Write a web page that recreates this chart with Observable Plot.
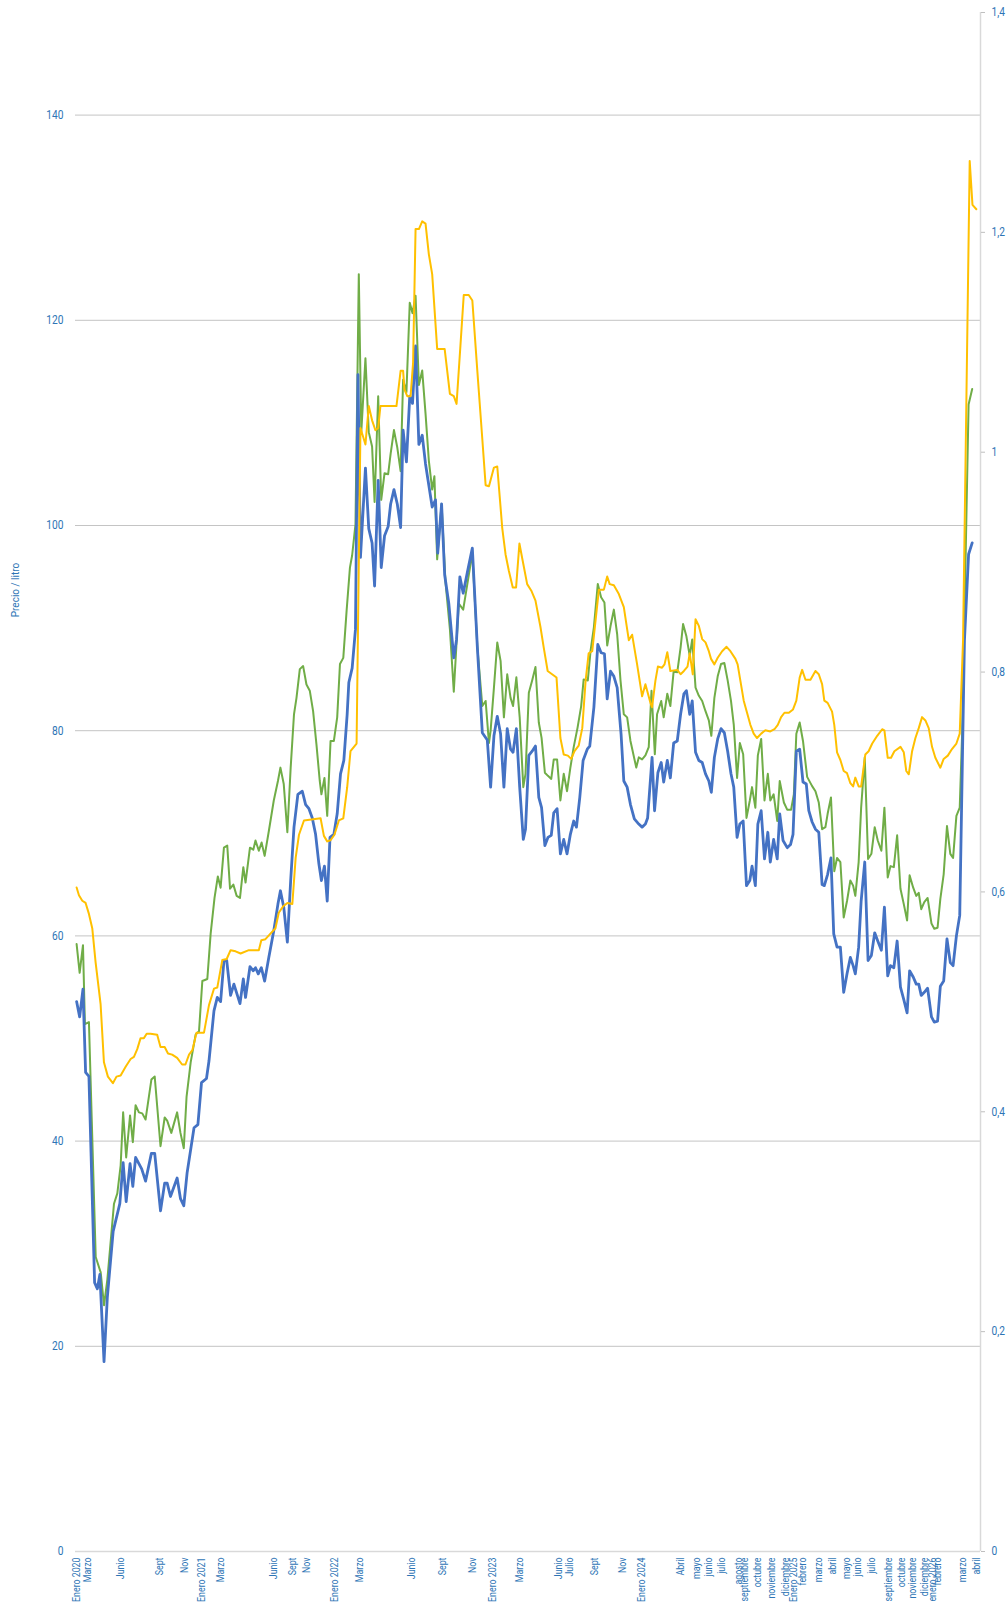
<!DOCTYPE html>
<html>
<head>
<meta charset="utf-8">
<script src="https://cdn.jsdelivr.net/npm/d3@7"></script>
<script src="https://cdn.jsdelivr.net/npm/@observablehq/plot@0.6"></script>
<style>
  body { margin: 0; background: #fff; }
  #chart svg { display: block; }
</style>
</head>
<body>
<div id="chart"></div>
<script>
// ---- Eje X: posiciones de semana (índice de categoría) y rótulos ----
const semanasRotulo = [0,4,16,30,39,45,52,71,78,83,93,102,121,132,143,150,160,174,178,187,197,204,218,224,228,233,239,241,246,251,256,259,262,268,273,278,282,287,293,298,302,306,309,311,320,325];
const rotulos = ["Enero 2020","Marzo","Junio","Sept","Nov","Enero 2021","Marzo","Junio","Sept","Nov","Enero 2022","Marzo","Junio","Sept","Nov","Enero 2023","Marzo","Junio","Julio","Sept","Nov","Enero 2024","Abril","mayo","junio","julio","agosto","septiembre","octubre","noviembre","diciembre","Enero 2025","febrero","marzo","abril","mayo","junio","julio","septiembre","octubre","noviembre","diciembre","enero 2026","febrero","marzo","abril"];

// ---- Ejes Y ----
const ticksIzq = [0,20,40,60,80,100,120,140];
const ticksDer = [0,0.2,0.4,0.6,0.8,1,1.2,1.4];
const rotulosDer = ["0","0,2","0,4","0,6","0,8","1","1,2","1,4"];

// ---- Serie azul (eje izquierdo): [semana, precio] ----
const serieAzul = [[0,53.6],[1.1,52.1],[2.3,54.8],[3.25,46.7],[4.45,46.3],[6.5,26.2],[7.5,25.6],[8.4,27.0],[9.9,18.5],[11.1,24.8],[13.2,31.2],[15.6,33.9],[16.8,37.9],[17.9,34.1],[19.3,37.8],[20.3,35.6],[21.3,38.4],[23.5,37.3],[24.9,36.1],[27,38.8],[28.2,38.8],[30.3,33.2],[31.8,35.9],[32.7,35.9],[33.9,34.6],[36.3,36.4],[37.5,34.4],[38.7,33.7],[39.9,36.9],[42.4,41.3],[43.8,41.6],[45.1,45.7],[46.9,46.1],[47.8,47.8],[49.6,52.7],[50.8,54.0],[52,53.6],[53.2,57.6],[54.2,57.6],[55.6,54.2],[56.8,55.3],[59,53.4],[60.2,55.8],[61,54.0],[62.6,57.0],[63.8,56.6],[64.6,56.9],[65.6,56.3],[66.7,56.9],[67.9,55.6],[69.4,57.9],[71.2,60.5],[72.7,63.1],[73.6,64.4],[74.8,62.8],[76.1,59.4],[77.3,65.4],[78.5,70.6],[79.9,73.8],[81.5,74.1],[82.7,72.8],[83.9,72.4],[85.1,71.5],[86.3,69.9],[87.5,67.0],[88.4,65.4],[89.5,66.8],[90.5,63.4],[91.5,69.6],[92.9,69.9],[94.1,71.9],[95.3,75.8],[96.5,77.1],[97.7,81.6],[98.3,84.7],[99.5,86.1],[100.7,89.9],[101.6,114.7],[102.5,96.9],[104.3,105.6],[105.5,99.7],[106.7,98.3],[107.6,94.1],[108.9,104.4],[110,95.9],[111.2,99.0],[112.5,99.9],[113.4,102.1],[114.6,103.5],[115.8,102.1],[117,99.8],[117.9,109.3],[119.1,106.2],[120.3,112.6],[121.3,111.9],[122.4,117.5],[123.6,107.9],[124.8,108.8],[126,106.0],[127.2,103.9],[128.4,101.8],[129.6,102.5],[130.4,97.3],[131.8,102.1],[132.9,95.2],[134.4,92.4],[136.2,87.1],[137.2,88.9],[138.4,95.0],[139.6,93.4],[141.3,95.7],[142.9,97.8],[144.7,88.2],[146.5,79.8],[148.3,79.1],[149.5,74.5],[150.7,79.5],[151.9,81.4],[153.1,79.7],[154.3,74.5],[155.5,80.2],[156.7,78.2],[157.6,77.9],[158.8,80.2],[160,74.5],[161.3,69.4],[162.1,70.4],[163.3,77.6],[164.5,78.0],[165.7,78.5],[166.9,73.5],[167.9,72.5],[169.1,68.8],[170.2,69.6],[171.4,69.8],[172.3,72.0],[173.5,72.4],[174.7,68.0],[175.9,69.4],[177.1,68.0],[178.3,69.9],[179.5,71.2],[180.5,70.6],[181.7,73.5],[182.9,77.1],[184.4,78.2],[185.3,78.5],[186.8,82.3],[188.2,88.4],[189.4,87.6],[190.6,87.5],[191.6,83.1],[192.8,85.8],[194,85.3],[195.2,84.2],[196.6,79.7],[197.6,75.1],[198.8,74.5],[200,72.8],[201.4,71.4],[203,70.9],[204.2,70.6],[205.4,70.9],[206.2,71.5],[207.8,77.4],[208.7,72.2],[209.9,75.9],[211.1,76.9],[212,75.0],[213.3,77.1],[214.4,75.4],[215.6,78.8],[216.9,79.0],[218.1,81.6],[219.3,83.6],[220.2,83.9],[221.4,81.6],[222.3,82.9],[223.5,77.9],[224.7,77.1],[225.9,76.9],[227.1,75.8],[228.3,75.1],[229.2,74.0],[230.3,77.4],[231.5,79.2],[232.7,80.2],[233.9,79.8],[235.1,78.0],[236.3,75.8],[237.3,74.5],[238.5,69.6],[239.5,70.9],[240.7,71.2],[241.9,64.9],[243.1,65.4],[243.9,66.8],[245.1,64.9],[246,70.9],[247.2,72.2],[248.4,67.5],[249.6,70.1],[250.5,67.2],[251.7,69.4],[253,67.5],[253.9,71.9],[255.1,69.3],[256.6,68.6],[257.8,68.9],[258.7,69.9],[259.9,78.0],[261.1,78.2],[262.3,75.0],[263.5,74.8],[264.4,72.2],[265.6,71.1],[266.8,70.4],[268,70.1],[269.2,65.0],[270,64.9],[271.2,66.0],[272.4,67.6],[273.4,60.2],[274.6,58.9],[275.8,58.9],[277,54.5],[278.2,56.3],[279.4,57.9],[280.4,57.1],[281.2,56.3],[282.4,58.9],[283.3,63.4],[284.6,67.2],[285.8,57.6],[287,58.1],[288.2,60.3],[289.3,59.5],[290.6,58.6],[291.7,62.8],[292.9,56.1],[293.9,57.1],[295.1,56.9],[296.3,59.5],[297.5,55.0],[298.7,53.8],[299.9,52.5],[300.8,56.6],[302.1,56.0],[303.2,55.3],[304.1,55.3],[305,54.2],[306.1,54.5],[307.3,54.9],[308.7,52.1],[309.7,51.6],[310.9,51.7],[311.9,55.1],[313.1,55.6],[314.3,59.7],[315.5,57.4],[316.5,57.1],[317.7,60.0],[318.9,62.0],[320.6,88.8],[322.1,97.2],[323.4,98.3]];

// ---- Serie verde (eje izquierdo): [semana, precio] ----
const serieVerde = [[0,59.2],[1.1,56.4],[2.3,59.1],[3.0,51.4],[4.45,51.6],[6.9,28.7],[8.7,27.2],[9.9,24.0],[11.1,26.5],[13.5,33.9],[14.7,34.9],[15.9,37.6],[16.8,42.8],[17.9,38.4],[19.3,42.5],[20.3,39.9],[21.3,43.5],[22.5,42.8],[23.7,42.7],[24.9,42.1],[27.0,46.0],[28.2,46.3],[30.3,39.5],[31.8,42.3],[32.7,42.0],[34.2,40.8],[36.3,42.8],[37.5,40.8],[38.7,39.3],[39.7,44.3],[41.2,47.7],[43.0,50.4],[44.2,50.7],[45.4,55.6],[47.2,55.8],[48.4,60.2],[49.8,63.7],[51,65.8],[52,64.7],[53.2,68.6],[54.4,68.8],[55.4,64.6],[56.6,65.0],[57.8,63.9],[59,63.7],[60.2,66.7],[61,65.2],[62.6,68.6],[63.8,68.4],[64.6,69.3],[65.8,68.3],[66.8,69.1],[67.9,67.8],[69.4,70.2],[71.2,73.2],[72.7,75.1],[73.6,76.4],[74.8,74.8],[76.1,70.1],[77.3,76.4],[78.5,81.6],[79.4,83.2],[80.6,86.0],[81.8,86.3],[83,84.5],[84.2,83.9],[85.4,81.9],[86.6,78.7],[87.8,75.1],[88.4,73.8],[89.5,75.4],[90.5,71.7],[91.7,79.0],[92.9,79.0],[94.1,81.3],[95.1,86.5],[96.3,87.1],[97.5,91.7],[98.7,95.9],[99.5,97.1],[100.7,100.1],[101.9,124.5],[102.8,109.1],[104.3,116.3],[105.5,109.1],[106.7,107.7],[107.6,102.3],[108.9,112.6],[110,102.5],[111.2,105.1],[112.5,105.0],[113.4,107.0],[114.6,109.3],[115.8,107.6],[117,105.3],[117.9,114.2],[119.1,113.0],[120.3,121.7],[121.3,120.7],[122.4,122.4],[123.6,113.7],[124.8,115.1],[126,110.9],[127.2,106.3],[128.4,103.5],[129.2,104.8],[130.2,96.7],[131.8,102.1],[133.2,94.5],[134.8,89.9],[136.2,83.8],[138,92.4],[139.6,91.8],[142.9,97.3],[144.7,88.2],[146.5,82.4],[147.7,82.9],[148.9,78.8],[149.5,80.0],[150.7,84.2],[151.9,88.6],[153.1,86.8],[154.3,81.3],[155.5,85.5],[156.7,83.2],[157.6,82.4],[158.8,85.2],[160,81.3],[161.3,74.5],[162.1,75.8],[163.3,83.7],[164.5,84.9],[165.7,86.2],[166.9,80.8],[167.9,79.3],[169.1,75.9],[170.2,75.6],[171.4,75.3],[172.3,77.2],[173.5,77.2],[174.7,73.2],[175.9,75.8],[177.1,74.1],[178.3,76.4],[179.5,78.4],[180.9,80.3],[182.2,82.4],[183.1,85.0],[184.6,84.9],[185.6,87.8],[186.8,90.1],[188.2,94.3],[189.4,93.0],[190.6,92.5],[191.6,88.3],[192.8,90.2],[194,91.8],[195.2,89.4],[196.4,84.9],[197.6,81.6],[198.8,81.3],[200,79.0],[202.1,76.4],[203,77.4],[204.2,77.2],[205.4,77.6],[206.6,78.4],[207.6,83.9],[208.8,77.7],[209.6,81.6],[211.1,82.9],[212,81.3],[213.3,83.6],[214.4,82.4],[215.6,85.8],[216.9,85.7],[218.1,88.1],[219,90.4],[220.2,89.2],[221.4,87.3],[222.3,88.9],[223.5,84.2],[224.7,83.4],[225.9,82.9],[227.1,81.9],[228.3,81.0],[229.2,79.5],[230.3,83.2],[231.5,85.3],[232.7,86.5],[233.9,86.6],[235.1,84.9],[236.3,82.9],[237.3,80.6],[238.5,75.4],[239.5,78.8],[240.7,77.7],[241.9,71.5],[243.1,73.2],[243.9,74.5],[245.1,72.5],[246,77.6],[247.2,79.2],[248.4,73.2],[249.6,75.8],[250.5,73.2],[251.7,73.8],[253,71.2],[253.9,75.1],[255.4,73.0],[256.6,72.3],[258,72.3],[259,73.8],[259.9,79.7],[261.1,80.8],[262.3,79.0],[263.8,75.5],[265.6,74.6],[266.8,74.1],[268,73.0],[269.2,70.4],[270.4,70.6],[271.2,71.9],[272.4,73.5],[273.6,66.3],[274.6,67.6],[275.8,67.2],[277,61.8],[278.2,63.4],[279.4,65.4],[280.4,64.9],[281.2,63.9],[282.4,67.2],[283.3,72.5],[284.6,77.4],[285.8,67.5],[287,68.0],[288.2,70.6],[289.3,69.3],[290.6,68.3],[291.7,72.5],[292.9,65.7],[293.9,66.8],[295.1,66.7],[296.3,69.8],[297.5,64.6],[298.7,63.1],[299.9,61.5],[300.8,65.9],[302.1,64.7],[303.2,63.9],[304.1,64.2],[305,62.6],[306.1,63.3],[307.3,63.7],[308.7,61.2],[309.7,60.7],[310.9,60.8],[311.9,63.6],[313.1,66.0],[314.3,70.7],[315.5,68.0],[316.5,67.6],[317.7,71.7],[318.9,72.5],[319.8,80.0],[322.1,111.8],[323.4,113.3]];

// ---- Serie amarilla (eje derecho, €/litro): [semana, precio] ----
const serieAmarilla = [[0,0.604],[0.84,0.597],[2.05,0.592],[3.25,0.590],[4.45,0.580],[5.65,0.567],[6.86,0.536],[8.66,0.498],[9.87,0.445],[11.3,0.432],[13.1,0.426],[14.4,0.432],[15.9,0.433],[17.7,0.441],[19.5,0.448],[20.7,0.450],[21.9,0.457],[23.1,0.467],[24.3,0.467],[25.3,0.471],[26.7,0.471],[29.1,0.470],[30.3,0.459],[31.8,0.459],[33.0,0.453],[34.5,0.452],[36.3,0.449],[38.1,0.443],[39.3,0.443],[40.6,0.452],[41.8,0.456],[43.3,0.472],[46.0,0.472],[47.8,0.497],[49.6,0.512],[50.8,0.513],[52.6,0.538],[54.2,0.539],[55.6,0.547],[57.4,0.546],[59.2,0.544],[62.2,0.547],[65.8,0.547],[66.7,0.556],[68.2,0.557],[70,0.562],[71.8,0.567],[73,0.581],[74.6,0.587],[76.1,0.590],[77.9,0.589],[79.1,0.631],[80.3,0.652],[82.1,0.665],[88.1,0.667],[89.3,0.651],[90.5,0.646],[91.7,0.647],[93.1,0.652],[94.7,0.665],[96.3,0.667],[97.7,0.695],[98.9,0.728],[101.1,0.735],[102.5,1.022],[104.3,1.007],[105.5,1.042],[106.7,1.029],[107.9,1.020],[108.9,1.022],[109.7,1.042],[115.5,1.042],[117,1.074],[117.9,1.074],[118.4,1.057],[119.4,1.051],[120.6,1.051],[121.5,1.081],[122.4,1.203],[123.6,1.203],[124.8,1.210],[126,1.208],[127.2,1.180],[128.4,1.162],[130.2,1.094],[132.9,1.094],[134.8,1.053],[136.2,1.051],[137.2,1.044],[138.6,1.097],[139.8,1.143],[141.6,1.143],[142.9,1.138],[144.7,1.074],[146.5,1.012],[147.7,0.970],[148.9,0.969],[150.7,0.986],[151.9,0.987],[153.7,0.931],[154.9,0.907],[156.1,0.892],[157.5,0.877],[158.7,0.877],[159.9,0.917],[161.1,0.901],[162.7,0.880],[164.2,0.874],[165.7,0.865],[167.5,0.841],[168.7,0.822],[170.1,0.801],[171.7,0.798],[173.3,0.795],[174.7,0.740],[175.9,0.725],[177.4,0.724],[178.6,0.721],[179.8,0.728],[181.3,0.733],[182.6,0.749],[183.8,0.792],[184.9,0.817],[186.2,0.819],[187.4,0.847],[188.6,0.875],[190.4,0.875],[191.6,0.887],[192.5,0.880],[194,0.879],[195.8,0.871],[197.6,0.859],[199.4,0.829],[200.6,0.834],[202.4,0.807],[204.2,0.778],[205.4,0.789],[207.2,0.772],[207.8,0.768],[209,0.792],[209.9,0.805],[211.4,0.804],[212.3,0.807],[213.3,0.818],[214.4,0.801],[216.9,0.802],[218.1,0.798],[219.3,0.801],[220.6,0.805],[221.4,0.817],[222.5,0.798],[223.5,0.848],[224.7,0.842],[225.9,0.830],[227.1,0.827],[228.3,0.819],[229.1,0.812],[230.3,0.807],[231.5,0.813],[233.1,0.819],[234.7,0.823],[236.1,0.819],[237.9,0.812],[238.7,0.807],[239.7,0.792],[240.9,0.774],[242.1,0.763],[243.3,0.752],[244.5,0.744],[245.7,0.740],[247.2,0.744],[248.7,0.747],[250.5,0.746],[252,0.748],[253.2,0.752],[254.4,0.759],[255.6,0.763],[257.2,0.763],[258.7,0.766],[259.9,0.774],[261.1,0.795],[262,0.802],[263.2,0.793],[265,0.793],[266.8,0.801],[268,0.798],[269.2,0.789],[270,0.774],[271.2,0.772],[272.8,0.764],[273.6,0.752],[274.6,0.727],[275.8,0.720],[277,0.710],[278.2,0.708],[279.4,0.699],[280.4,0.696],[281.2,0.704],[282.4,0.696],[283.3,0.696],[284.8,0.725],[286,0.728],[287.3,0.735],[289.1,0.742],[290.9,0.748],[291.7,0.747],[292.9,0.722],[294.1,0.722],[295.3,0.728],[297.5,0.732],[298.7,0.727],[299.6,0.710],[300.5,0.707],[301.7,0.728],[302.9,0.740],[304.1,0.749],[305.3,0.759],[306.5,0.756],[307.7,0.749],[308.9,0.732],[310.1,0.722],[311.9,0.713],[313.1,0.721],[314.6,0.724],[316.1,0.730],[317.7,0.735],[318.9,0.744],[320.1,0.829],[322.5,1.265],[323.5,1.225],[324.9,1.221]];

// ---- Construcción del gráfico ----
const escalaDer = 150 / 1.4;          // eje derecho 0–1,4 sobre eje izquierdo 0–150
const xMin = -0.4, xMax = 326.4;
const rotuloPorSemana = new Map(semanasRotulo.map((s, i) => [s, rotulos[i]]));
const rotuloDerPorValor = new Map(ticksDer.map((v, i) => [+(v * escalaDer).toFixed(6), rotulosDer[i]]));
const azulTexto = "#2e75b6";
const fuente = "'Liberation Sans Narrow','Arial Narrow','Roboto',sans-serif";

const chart = Plot.plot({
  width: 1007,
  height: 1609,
  marginLeft: 75,
  marginRight: 27,
  marginTop: 12,
  marginBottom: 58,
  style: { fontFamily: fuente, fontSize: "12px", color: azulTexto, background: "#fff" },
  x: { domain: [xMin, xMax] },
  y: { domain: [0, 150] },
  marks: [
    Plot.ruleY(ticksIzq.filter(d => d > 0), { stroke: "#c4c4c4", strokeWidth: 1 }),
    Plot.ruleY([0], { stroke: "#d9d9d9", strokeWidth: 1.5 }),
    Plot.ruleX([xMax], { stroke: "#d9d9d9", strokeWidth: 1.5 }),
    Plot.axisY(ticksIzq, { anchor: "left", tickSize: 0, tickPadding: 12, label: null, fill: azulTexto }),
    Plot.axisY(ticksDer.map(v => v * escalaDer), {
      anchor: "right", tickSize: 4, tickPadding: 7, label: null, stroke: "#bfbfbf", fill: azulTexto,
      tickFormat: d => rotuloDerPorValor.get(+d.toFixed(6))
    }),
    Plot.axisX(semanasRotulo, {
      anchor: "bottom", tickSize: 0, tickPadding: 6, tickRotate: -90, label: null,
      fontSize: 11, fill: azulTexto, tickFormat: d => rotuloPorSemana.get(d)
    }),
    Plot.text(["Precio / litro"], { frameAnchor: "left", textAnchor: "middle", dx: -60, dy: -192, rotate: -90, fill: azulTexto, fontSize: 10 }),
    Plot.line(serieVerde, { x: d => d[0], y: d => d[1], stroke: "#70ad47", strokeWidth: 2 }),
    Plot.line(serieAzul, { x: d => d[0], y: d => d[1], stroke: "#4472c4", strokeWidth: 2.8 }),
    Plot.line(serieAmarilla, { x: d => d[0], y: d => d[1] * escalaDer, stroke: "#ffc000", strokeWidth: 2 })
  ]
});

// Rótulos del eje X en letra estrecha (como en el original): se comprimen a lo largo del texto
d3.select(chart).selectAll('g[aria-label="x-axis tick label"] text').each(function () {
  const t = this.getAttribute("transform") || "";
  this.setAttribute("transform", (t + " scale(0.8,1)").trim());
});
// Rótulos de los ejes Y también estrechos
d3.select(chart).selectAll('g[aria-label="y-axis tick label"] text').each(function () {
  const t = this.getAttribute("transform") || "";
  this.setAttribute("transform", (t + " scale(0.85,1)").trim());
});
document.getElementById("chart").appendChild(chart);
</script>
</body>
</html>
